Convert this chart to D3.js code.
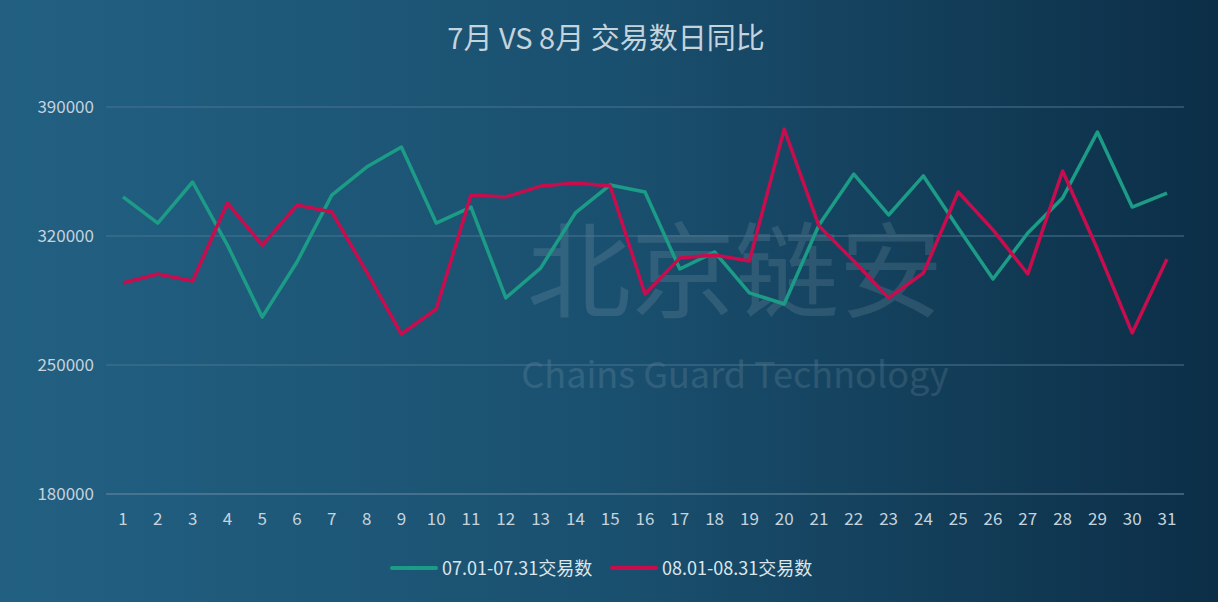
<!DOCTYPE html>
<html>
<head>
<meta charset="utf-8">
<script src="https://cdn.jsdelivr.net/npm/d3@7"></script>
<style>
  body { margin: 0; background: #0d2f48; }
  text { font-family: "Noto Sans CJK SC", "Noto Sans", sans-serif; }
</style>
</head>
<body>
<div id="chart"></div>
<script>
// chart data
var days = d3.range(1, 32);
var julyValues = [341200, 327000, 349300, 315100, 276000, 305900, 342200, 357400, 368300, 327000,
  335700, 286400, 302600, 332500, 347700, 343900, 302100, 311300, 289100, 283100,
  326000, 353600, 331400, 352600, 324300, 296700, 321600, 340600, 376400, 335700, 343300];
var augValues = [294500, 299400, 295600, 337900, 315100, 336800, 333000, 300500, 266800, 280400,
  342200, 341200, 347100, 348800, 347100, 288500, 308100, 309700, 306400, 378000,
  325400, 306400, 286400, 299900, 343900, 323300, 299400, 355300, 312900, 267400, 307500];
var yTicks = [180000, 250000, 320000, 390000];
var seriesNames = ["07.01-07.31交易数", "08.01-08.31交易数"];
var seriesColors = ["#1c9c86", "#c70d4d"];

var svgWidth = 1218, svgHeight = 602;
var margin = { top: 107, right: 34, bottom: 108, left: 106 };
var width = svgWidth - margin.left - margin.right;
var height = svgHeight - margin.top - margin.bottom;

var svg = d3.select("#chart").append("svg")
  .attr("width", svgWidth)
  .attr("height", svgHeight);

// background gradient
var grad = svg.append("defs").append("linearGradient")
  .attr("id", "bg").attr("x1", "0%").attr("x2", "100%").attr("y1", "0%").attr("y2", "0%");
grad.append("stop").attr("offset", "0%").attr("stop-color", "#226082");
grad.append("stop").attr("offset", "50%").attr("stop-color", "#1a506f");
grad.append("stop").attr("offset", "100%").attr("stop-color", "#0c2e47");
svg.append("rect").attr("width", svgWidth).attr("height", svgHeight).attr("fill", "url(#bg)");

// title
svg.append("text")
  .attr("x", 606).attr("y", 49)
  .attr("text-anchor", "middle")
  .attr("fill", "#c5d3dc")
  .attr("font-size", 29)
  .text("7月 VS 8月 交易数日同比");

// watermark
svg.append("text")
  .attr("x", 735).attr("y", 310)
  .attr("text-anchor", "middle")
  .attr("fill", "#ffffff").attr("opacity", 0.1)
  .attr("font-size", 104)
  .text("北京链安");
svg.append("text")
  .attr("x", 735).attr("y", 388)
  .attr("text-anchor", "middle")
  .attr("fill", "#ffffff").attr("opacity", 0.1)
  .attr("font-size", 36)
  .text("Chains Guard Technology");

var chartGroup = svg.append("g")
  .attr("transform", `translate(${margin.left}, ${margin.top})`);

var xScale = d3.scalePoint()
  .domain(days)
  .range([17, width - 17]);

var yScale = d3.scaleLinear()
  .domain([180000, 390000])
  .range([height, 0]);

// gridlines
chartGroup.selectAll(".grid")
  .data(yTicks)
  .enter()
  .append("line")
  .attr("x1", 0).attr("x2", width)
  .attr("y1", d => yScale(d)).attr("y2", d => yScale(d))
  .attr("stroke", d => d === 180000 ? "#6f8ea3" : "#4a7490")
  .attr("stroke-width", 1);

// y labels
chartGroup.selectAll(".ylab")
  .data(yTicks)
  .enter()
  .append("text")
  .attr("x", -12).attr("y", d => yScale(d) + 6)
  .attr("text-anchor", "end")
  .attr("fill", "#c5d3dc")
  .attr("font-size", 17)
  .text(d => d);

// x labels
chartGroup.selectAll(".xlab")
  .data(days)
  .enter()
  .append("text")
  .attr("x", d => xScale(d)).attr("y", height + 31)
  .attr("text-anchor", "middle")
  .attr("fill", "#c5d3dc")
  .attr("font-size", 17)
  .text(d => d);

var line = d3.line()
  .x((d, i) => xScale(days[i]))
  .y(d => yScale(d));

[julyValues, augValues].forEach(function(vals, i) {
  chartGroup.append("path")
    .datum(vals)
    .attr("d", line)
    .attr("fill", "none")
    .attr("stroke", seriesColors[i])
    .attr("stroke-width", 3.5)
    .attr("stroke-linejoin", "round");
});

// legend
var legendItems = [{ x: 392 }, { x: 612 }];
legendItems.forEach(function(item, i) {
  var g = svg.append("g").attr("transform", `translate(${item.x}, 568)`);
  g.append("line").attr("x1", 0).attr("x2", 44)
    .attr("stroke", seriesColors[i]).attr("stroke-width", 4)
    .attr("stroke-linecap", "round");
  g.append("text").attr("x", 50).attr("y", 7)
    .attr("fill", "#dde6ec").attr("font-size", 18)
    .text(seriesNames[i]);
});
</script>
</body>
</html>
